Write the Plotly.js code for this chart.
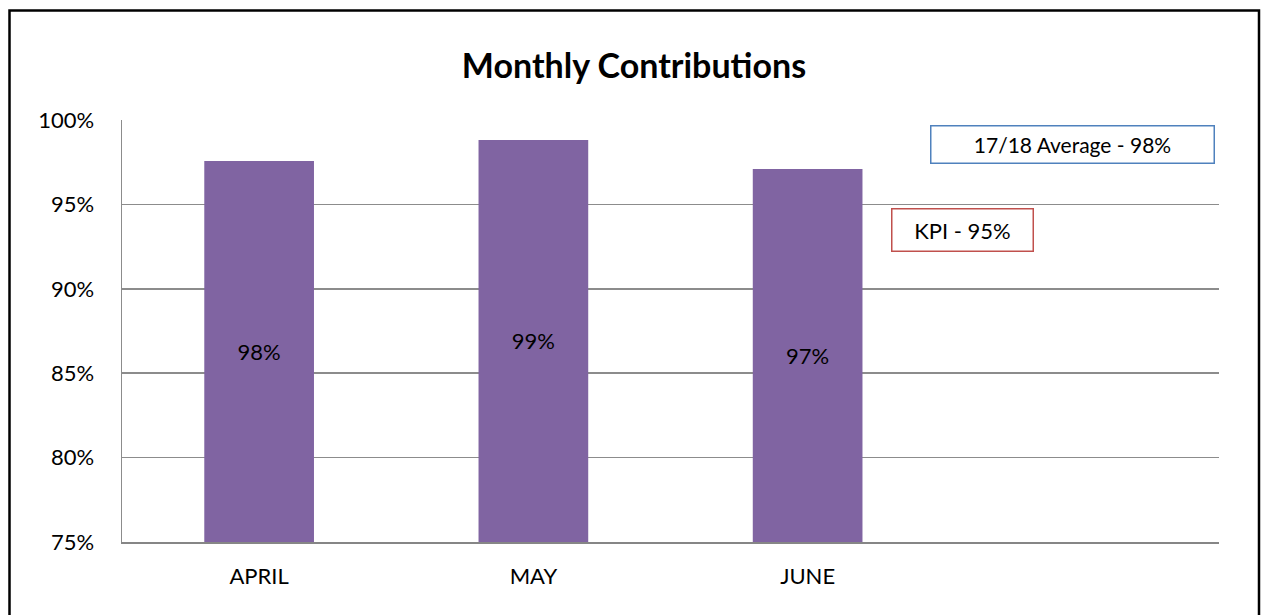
<!DOCTYPE html>
<html>
<head>
<meta charset="utf-8">
<script src="https://cdn.plot.ly/plotly-3.0.1.min.js"></script>
<style>html,body{margin:0;padding:0;background:#fff;}#chart{width:1264px;height:615px;}</style>
</head>
<body>
<div id="chart"></div>
<script>
const categories = ['APRIL', 'MAY', 'JUNE'];
const values = [0.9757, 0.9882, 0.9710];
const labels = ['98%', '99%', '97%'];
const axisMin = 0.75;
const yTickVals = [0.75, 0.80, 0.85, 0.90, 0.95, 1.00];
const yTickText = ['75%', '80%', '85%', '90%', '95%', '100%'];
const avgLabel = '17/18 Average - 98%';
const kpiLabel = 'KPI - 95%';

const FONT = 'Lato, "Open Sans", sans-serif';

const trace = {
  type: 'bar',
  x: categories,
  base: categories.map(() => axisMin),
  y: values.map(v => v - axisMin),
  text: labels,
  textposition: 'inside',
  insidetextanchor: 'middle',
  textangle: 0,
  textfont: {family: FONT, size: 22, color: '#000'},
  marker: {color: '#8064A2'},
  hoverinfo: 'none'
};

const layout = {
  width: 1264, height: 615,
  margin: {l: 122, r: 45, t: 120, b: 73},
  paper_bgcolor: '#fff', plot_bgcolor: '#fff',
  showlegend: false,
  bargap: 0.6,
  font: {family: FONT, color: '#000'},
  title: {
    text: '<b>Monthly Contributions</b>',
    font: {family: FONT, size: 34, color: '#000'},
    x: 634/1264, xref: 'container', xanchor: 'center',
    y: 1 - 66/615, yref: 'container', yanchor: 'middle'
  },
  xaxis: {
    type: 'category',
    categoryarray: categories,
    range: [-0.5, 3.5],
    showgrid: false, zeroline: false,
    showline: true, linecolor: '#868686', linewidth: 1.5,
    ticks: 'outside', ticklen: 14, tickcolor: 'rgba(0,0,0,0)',
    tickfont: {family: FONT, size: 22, color: '#000'},
    fixedrange: true
  },
  yaxis: {
    range: [0.75, 1.0],
    tickvals: yTickVals, ticktext: yTickText,
    showgrid: true, gridcolor: '#8c8c8c', gridwidth: 1.5,
    zeroline: false,
    showline: true, linecolor: '#8c8c8c', linewidth: 1.5,
    ticks: 'outside', ticklen: 22, tickcolor: 'rgba(0,0,0,0)',
    tickfont: {family: FONT, size: 22, color: '#000'},
    fixedrange: true
  },
  annotations: [
    {
      text: avgLabel, xref: 'paper', yref: 'paper',
      x: 0.866, y: 0.943, xanchor: 'center', yanchor: 'middle',
      showarrow: false, width: 282, height: 36, borderpad: 0,
      bordercolor: '#4F81BD', borderwidth: 1.5, bgcolor: '#fff',
      font: {family: FONT, size: 21, color: '#000'}
    },
    {
      text: kpiLabel, xref: 'paper', yref: 'paper',
      x: 0.7666, y: 0.7405, xanchor: 'center', yanchor: 'middle',
      showarrow: false, width: 140, height: 41, borderpad: 0,
      bordercolor: '#C0504D', borderwidth: 1.5, bgcolor: '#fff',
      font: {family: FONT, size: 22, color: '#000'}
    }
  ],
  shapes: [
    {
      type: 'rect', xref: 'paper', yref: 'paper',
      x0: (9.5-122)/1097, x1: (1259-122)/1097,
      y0: (542-620)/422, y1: (542-10.5)/422,
      line: {color: '#000', width: 2.5}, fillcolor: 'rgba(0,0,0,0)', layer: 'above'
    }
  ]
};

Plotly.newPlot('chart', [trace], layout, {displayModeBar: false, staticPlot: true});
</script>
</body>
</html>
